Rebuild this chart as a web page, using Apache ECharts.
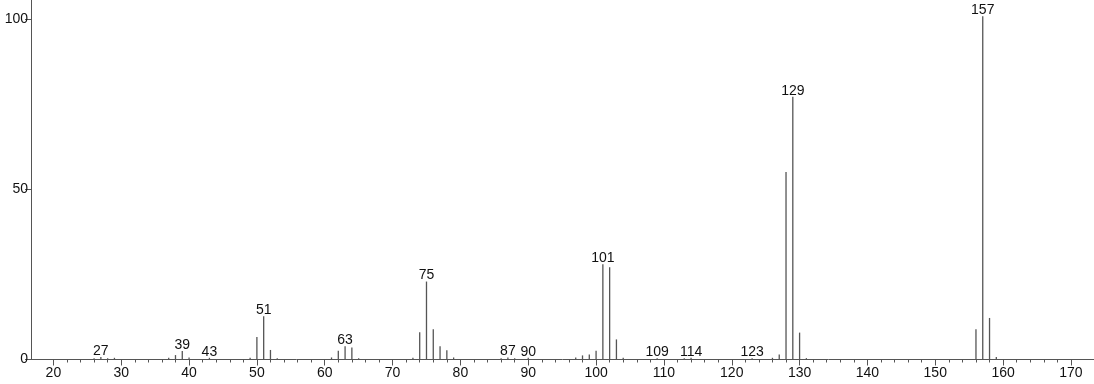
<!DOCTYPE html>
<html>
<head>
<meta charset="utf-8">
<script src="https://cdn.jsdelivr.net/npm/echarts@6/dist/echarts.min.js"></script>
<style>html,body{margin:0;padding:0;background:#fff}#c{width:1094px;height:384px}</style>
</head>
<body>
<div id="c"></div>
<script>
var masses = [26,27,28,29,37,38,39,40,43,49,50,51,52,53,61,62,63,64,65,73,74,75,76,77,78,79,86,87,88,90,97,98,99,100,101,102,103,104,109,113,114,123,126,127,128,129,130,131,156,157,158,159];
var intensities = [0.4,0.7,0.4,0.5,0.5,1.3,2.5,0.6,0.5,0.5,6.6,12.7,2.8,0.4,0.6,2.6,3.9,3.5,0.4,0.5,8.0,22.9,8.9,3.9,2.7,0.6,0.4,0.6,0.4,0.5,0.6,1.2,1.5,2.6,28.0,27.1,5.9,0.5,0.4,0.4,0.5,0.4,0.5,1.5,55.1,77.2,7.9,0.4,8.9,100.8,12.2,0.7];
var labeledPeaks = [27,39,43,51,63,75,87,90,101,109,114,123,129,157];
var xMajorTicks = [20,30,40,50,60,70,80,90,100,110,120,130,140,150,160,170];
var xMinorTicks = [];
for (var t = 22; t < 170; t += 2) { if (t % 10 !== 0) xMinorTicks.push(t); }
var yTicks = [0,50,100];

var data = masses.map(function (m, i) {
  var show = labeledPeaks.indexOf(m) >= 0;
  return { value: [m, intensities[i]], label: { show: show } };
});

var FONT = 'Liberation Sans, Arial, sans-serif';
var chart = echarts.init(document.getElementById('c'), null, { renderer: 'canvas' });
var xmin = 16.7, xmax = 173.4;
chart.setOption({
  animation: false,
  grid: { left: 31, right: 0, top: 0, bottom: 24.5, containLabel: false },
  xAxis: [{
    type: 'value', min: xmin, max: xmax, position: 'bottom',
    axisLine: { show: true, onZero: false, lineStyle: { color: '#555', width: 1 } },
    axisTick: { show: true, customValues: xMajorTicks, length: 6, lineStyle: { color: '#555' } },
    axisLabel: { show: true, customValues: xMajorTicks, margin: 7, color: '#111', fontSize: 14, fontFamily: FONT },
    splitLine: { show: false }
  }, {
    type: 'value', min: xmin, max: xmax, position: 'bottom',
    axisLine: { show: false, onZero: false },
    axisTick: { show: true, customValues: xMinorTicks, length: 3, lineStyle: { color: '#555' } },
    axisLabel: { show: false },
    splitLine: { show: false }
  }],
  yAxis: {
    type: 'value', min: 0, max: 105.6,
    axisLine: { show: true, lineStyle: { color: '#555', width: 1 } },
    axisTick: { show: true, customValues: yTicks, length: 6, lineStyle: { color: '#555' } },
    axisLabel: { show: true, customValues: yTicks, margin: 3, color: '#111', fontSize: 14, fontFamily: FONT },
    splitLine: { show: false }
  },
  series: [{
    type: 'bar',
    xAxisIndex: 0,
    barWidth: 1.3,
    itemStyle: { color: '#555' },
    label: { position: 'top', distance: -1, color: '#111', fontSize: 14, fontFamily: FONT,
      formatter: function (p) { return p.value[0]; } },
    data: data
  }]
});
</script>
</body>
</html>
